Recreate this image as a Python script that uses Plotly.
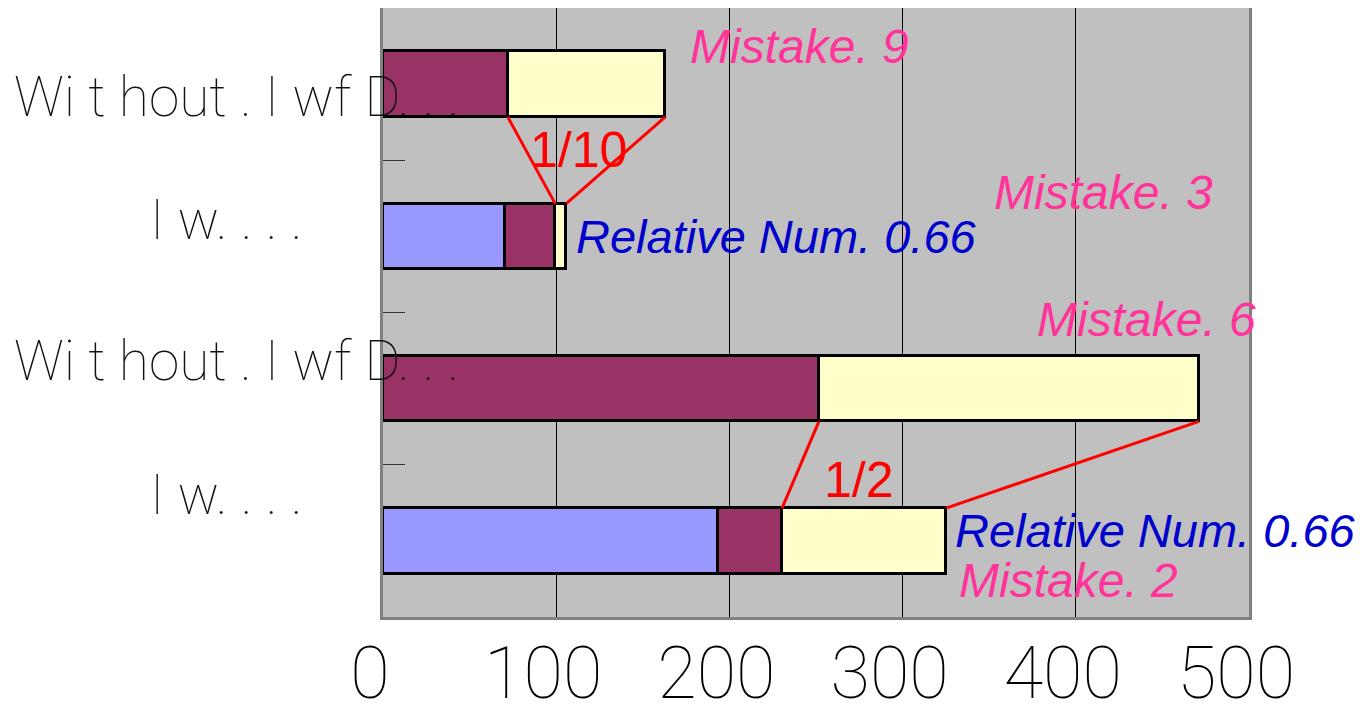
import plotly.graph_objects as go

# ---- data ----
categories = ["Wi t hout . I wf D. . .", "I w. . . .", "Wi t hout . I wf D. . .", "I w. . . ."]
blue_vals = [0, 70.4, 0, 193.4]
maroon_vals = [72, 29, 251.7, 37]
yellow_vals = [91, 6.4, 219.4, 94.7]
x_ticks = [0, 100, 200, 300, 400, 500]
mistakes = ["Mistake. 9", "Mistake. 3", "Mistake. 6", "Mistake. 2"]
relative_text = "Relative Num. 0.66"
ratio_labels = ["1/10", "1/2"]

# numeric positions, top bar first
ypos = [3, 2, 1, 0]
BW = 0.43
H = BW / 2

fig = go.Figure()
colors = ["#9999FF", "#993366", "#FFFFCC"]
for vals, col in zip([blue_vals, maroon_vals, yellow_vals], colors):
    fig.add_trace(go.Bar(
        y=ypos, x=vals, orientation="h", width=BW,
        marker=dict(color=col, line=dict(color="black", width=3)),
        showlegend=False, hoverinfo="skip"))

# cumulative positions
start_y = [b + m for b, m in zip(blue_vals, maroon_vals)]
end_y = [s + y for s, y in zip(start_y, yellow_vals)]

shapes = []
for a, b in [(0, 1), (2, 3)]:
    shapes.append(dict(type="line", xref="x", yref="y",
                       x0=start_y[a], y0=ypos[a] - H, x1=start_y[b], y1=ypos[b] + H,
                       line=dict(color="#FF0000", width=3)))
    shapes.append(dict(type="line", xref="x", yref="y",
                       x0=end_y[a], y0=ypos[a] - H, x1=end_y[b], y1=ypos[b] + H,
                       line=dict(color="#FF0000", width=3)))

ann = []
lab_font = dict(family="Roboto", size=55, color="#111111", weight=100)
label_x = [12, 148, 12, 148]
label_shift = [-13, 16, 28, 46]
for i, c in enumerate(categories):
    ann.append(dict(text=c, xref="paper", yref="y",
                    x=(label_x[i] - 383) / 866, y=ypos[i], yshift=label_shift[i],
                    xanchor="left", yanchor="middle", showarrow=False, font=lab_font))

pink = dict(family="Liberation Sans", size=48, color="#FF3399", style="italic")
blue = dict(family="Liberation Sans", size=47, color="#0000CC", style="italic")
red = dict(family="Liberation Sans", size=50, color="#FF0000")

# Mistake labels
mk_pos = [(176, 3.244), (351.6, 2.285), (376.4, 1.451), (331.4, -0.257)]
for t, (x, y) in zip(mistakes, mk_pos):
    ann.append(dict(text=t, x=x, y=y, xref="x", yref="y", xanchor="left", yanchor="middle",
                    showarrow=False, font=pink))
# relative num labels
for i in [1, 3]:
    ann.append(dict(text=relative_text, x=end_y[i], y=ypos[i], xshift=8 if i == 1 else 7,
                    yshift=0 if i == 1 else 10,
                    xref="x", yref="y", xanchor="left", yanchor="middle",
                    showarrow=False, font=blue))
# ratio labels
for t, (x, y) in zip(ratio_labels, [(83.7, 2.567), (253.5, 0.4)]):
    ann.append(dict(text=t, x=x, y=y, xref="x", yref="y", xanchor="left", yanchor="middle",
                    showarrow=False, font=red))

fig.update_layout(
    width=1370, height=718,
    margin=dict(l=375, r=129, t=0, b=109, autoexpand=False),
    paper_bgcolor="white", plot_bgcolor="#C0C0C0",
    barmode="stack", bargap=0,
    shapes=shapes, annotations=ann,
)
fig.update_xaxes(range=[0, 500], tickvals=x_ticks, ticktext=[str(v) for v in x_ticks],
                 showgrid=True, gridcolor="black", gridwidth=1, zeroline=False,
                 showline=True, linecolor="#808080", linewidth=3, mirror=True,
                 ticks="", ticklabelstandoff=-8, ticklabelshift=-13, automargin=False,
                 tickfont=dict(family="Roboto", size=72, color="black", weight=100))
fig.update_yaxes(range=[-0.5, 3.5], tickvals=[-0.5, 0.5, 1.5, 2.5, 3.5], showticklabels=False,
                 ticks="inside", ticklen=22, tickcolor="#333333", tickwidth=1,
                 showgrid=False, zeroline=False, automargin=False,
                 showline=True, linecolor="#808080", linewidth=3, mirror=True)

fig.write_html("out.html")
